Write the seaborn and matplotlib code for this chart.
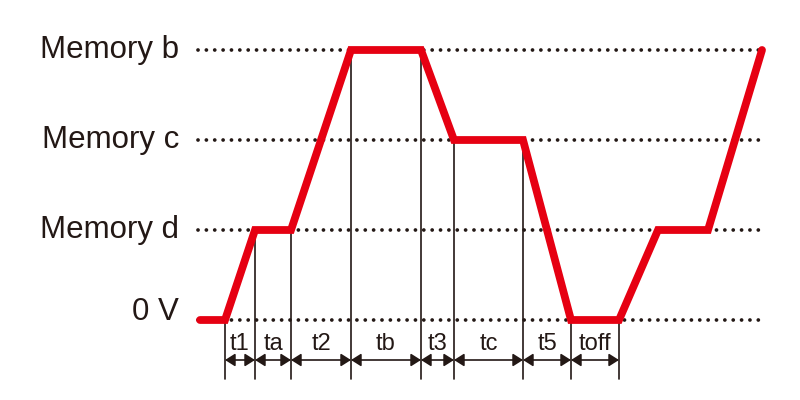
import pandas as pd
import matplotlib.pyplot as plt
import seaborn as sns

# dados do diagrama de tempo
tempo = [0, 25, 55, 91, 151, 221, 254, 323, 371, 419, 458, 508, 562]
nivel = [0, 0, 1, 1, 3, 3, 2, 2, 0, 0, 1, 1, 3]
niveis_nomes = ['0 V', 'Memory d', 'Memory c', 'Memory b']
intervalos = ['t1', 'ta', 't2', 'tb', 't3', 'tc', 't5', 'toff']

df = pd.DataFrame({'tempo': tempo, 'nivel': nivel})

sns.set_theme(style='white')
plt.rcParams['font.family'] = ['Liberation Sans', 'DejaVu Sans']

escuro = '#231815'
vermelho = '#e60012'

fig = plt.figure(figsize=(8, 4), dpi=100)
ax = fig.add_axes([0, 0, 1, 1])
ax.set_xlim(-200, 600)
ax.set_ylim(-80 / 90, 320 / 90)
ax.axis('off')

# linhas pontilhadas e nomes dos niveis
for i, nome in enumerate(niveis_nomes):
    ax.plot([-2, 560], [i, i], color=escuro, lw=2.7, linestyle=(0, (0.01, 2.22)),
            dash_capstyle='round', zorder=1)
    dy = 0 if i == 0 else -8 / 90
    ax.text(-21, i + dy, nome, ha='right', va='baseline', fontsize=22.5, color=escuro)

# linhas verticais nas transicoes
marcas = tempo[1:len(intervalos) + 2]
for t, n in zip(marcas, nivel[1:len(intervalos) + 2]):
    ax.plot([t, t], [n, -59 / 90], color=escuro, lw=1.2, zorder=2)

# setas e rotulos dos intervalos
for a, b, rot in zip(marcas[:-1], marcas[1:], intervalos):
    ax.annotate('', xy=(a, -40 / 90), xytext=(b, -40 / 90),
                arrowprops=dict(arrowstyle='<|-|>,head_length=0.6,head_width=0.38',
                                color=escuro, lw=1.2, shrinkA=0, shrinkB=0,
                                mutation_scale=10))
    ax.text((a + b) / 2, -30 / 90, rot, ha='center', va='baseline', fontsize=17, color=escuro)

# sinal em vermelho
sns.lineplot(data=df, x='tempo', y='nivel', ax=ax, color=vermelho, lw=5.6,
             sort=False, estimator=None, zorder=3)
ax.lines[-1].set_solid_capstyle('round')
ax.lines[-1].set_solid_joinstyle('miter')
ax.set_xlabel('')
ax.set_ylabel('')

plt.savefig('out.png', dpi=100)
